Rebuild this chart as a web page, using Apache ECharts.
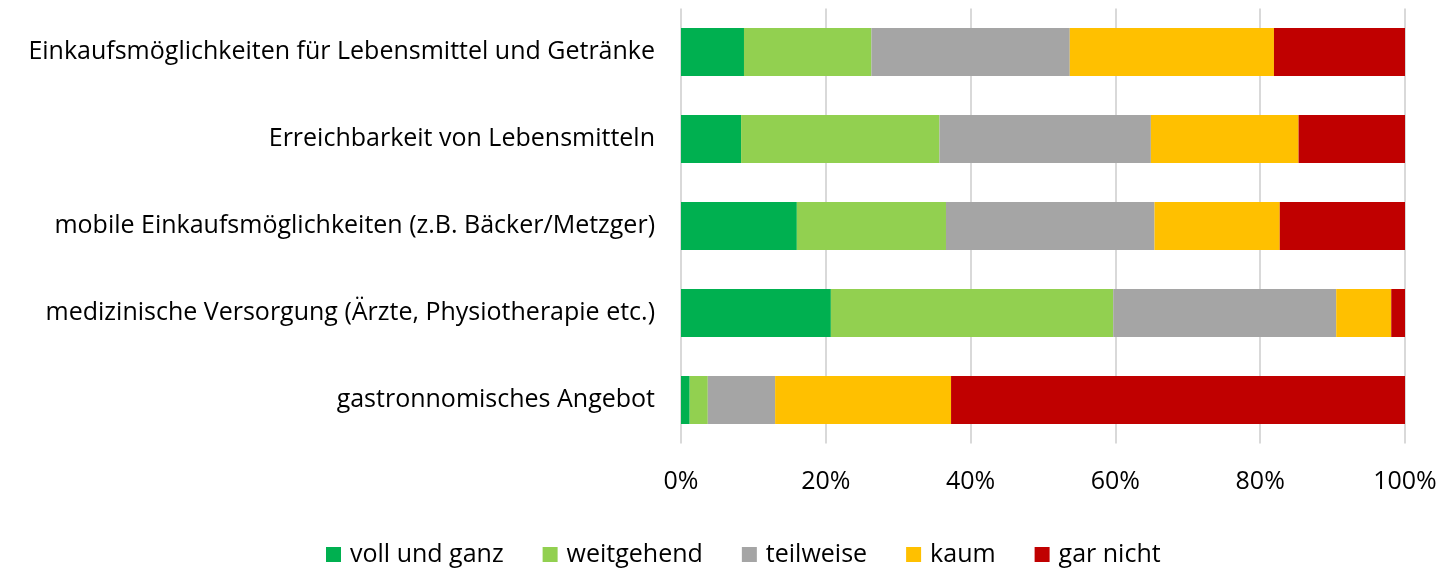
<!DOCTYPE html>
<html>
<head>
<meta charset="utf-8">
<script src="https://cdn.jsdelivr.net/npm/echarts@6/dist/echarts.min.js"></script>
<style>
    html, body { margin: 0; padding: 0; background: #fff; }
    #chart { width: 1443px; height: 568px; }
</style>
</head>
<body>
<div id="chart"></div>
<script>
    // Kategorien (von oben nach unten)
    const categories = [
        'Einkaufsmöglichkeiten für Lebensmittel und Getränke',
        'Erreichbarkeit von Lebensmitteln',
        'mobile Einkaufsmöglichkeiten (z.B. Bäcker/Metzger)',
        'medizinische Versorgung (Ärzte, Physiotherapie etc.)',
        'gastronnomisches Angebot'
    ];

    // Anteile in Prozent
    const vollUndGanz = [8.7, 8.3, 16.0, 20.7, 1.2];
    const weitgehend  = [17.6, 27.4, 20.6, 39.0, 2.5];
    const teilweise   = [27.4, 29.2, 28.8, 30.8, 9.3];
    const kaum        = [28.2, 20.4, 17.3, 7.6, 24.3];
    const garNicht    = [18.1, 14.7, 17.3, 1.9, 62.7];

    const xTicks = [0, 20, 40, 60, 80, 100];

    const seriesDefs = [
        { name: 'voll und ganz', data: vollUndGanz, color: '#00B050' },
        { name: 'weitgehend', data: weitgehend, color: '#92D050' },
        { name: 'teilweise', data: teilweise, color: '#A5A5A5' },
        { name: 'kaum', data: kaum, color: '#FFC000' },
        { name: 'gar nicht', data: garNicht, color: '#C00000' }
    ];

    const fontFam = 'Open Sans, Noto Sans, sans-serif';

    let chart = echarts.init(document.getElementById('chart'));
    let option = {
        animation: false,
        textStyle: { fontFamily: fontFam },
        grid: {
            left: 681,
            right: 38,
            top: 8.5,
            height: 435
        },
        legend: {
            top: 537,
            left: 321,
            itemWidth: 15,
            itemHeight: 15,
            itemGap: 39,
            icon: 'rect',
            textStyle: { fontSize: 25, color: '#000', fontFamily: fontFam, padding: [0, 0, 0, 4] },
            data: seriesDefs.map(s => s.name)
        },
        xAxis: {
            type: 'value',
            min: xTicks[0],
            max: xTicks[xTicks.length - 1],
            interval: 20,
            axisLine: { show: false },
            axisTick: { show: false },
            splitLine: { lineStyle: { color: '#D9D9D9', width: 2 } },
            axisLabel: {
                margin: 26,
                fontSize: 25,
                color: '#000',
                formatter: v => v + '%'
            }
        },
        yAxis: {
            type: 'category',
            inverse: true,
            data: categories,
            axisLine: { show: false },
            axisTick: { show: false },
            axisLabel: {
                margin: 26,
                fontSize: 25,
                color: '#000'
            }
        },
        series: seriesDefs.map(s => ({
            name: s.name,
            type: 'bar',
            stack: 'total',
            barWidth: 48,
            itemStyle: { color: s.color },
            data: s.data
        }))
    };
    chart.setOption(option);
</script>
</body>
</html>
